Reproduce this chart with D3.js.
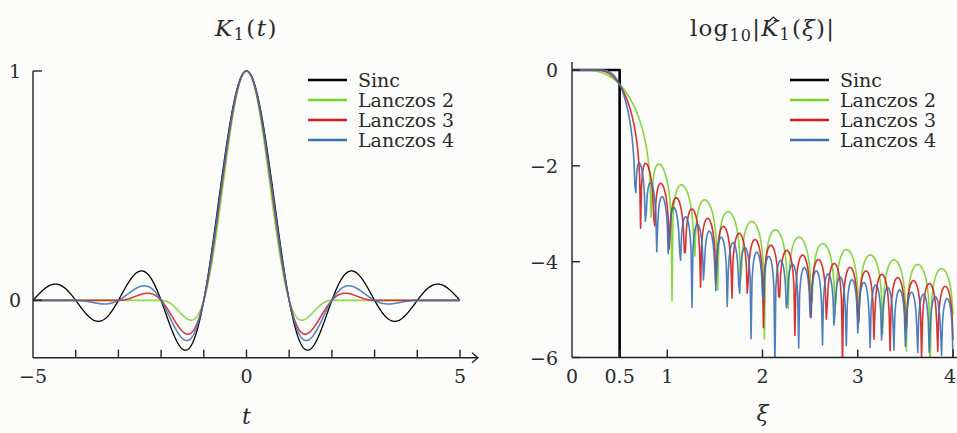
<!DOCTYPE html>
<html>
<head>
<meta charset="utf-8">
<script src="https://cdn.jsdelivr.net/npm/d3@7"></script>
<style>
  html, body { margin: 0; padding: 0; background: #fcfcfa; }
  svg { display: block; font-family: "DejaVu Serif", "Liberation Serif", serif; }
</style>
</head>
<body>
<svg id="chart" width="957" height="433"></svg>
<script>
// ---- series definitions ----
const seriesNames  = ["Sinc", "Lanczos 2", "Lanczos 3", "Lanczos 4"];
const seriesColors = ["#000000", "#78d22c", "#d41c1c", "#3b70b7"];
const lanczosOrders = [2, 3, 4];

// ---- sampling grids ----
const timeDomain = [-5, 5];
const timeStep = 0.01;
const freqDomain = [0, 4];
const freqStep = 0.01;

// ---- axis ticks ----
const timeTicks = [-4, -3, -2, -1, 0, 1, 2, 3, 4, 5];
const timeTickLabels = [-5, 0, 5];
const kernelTicks = [0, 1];
const freqTicks = [0.5, 1, 2, 3, 4];
const freqTickLabels = [0, 0.5, 1, 2, 3, 4];
const logTicks = [0, -2, -4, -6];

// ideal low-pass: |K^| = 1 below the cutoff, 0 above (drawn down to the floor)
const sincCutoff = 0.5;
const logFloor = -6;
const sincSpectrumXi  = [0, sincCutoff, sincCutoff];
const sincSpectrumLog = [0, 0, logFloor];

// ---- kernels ----
const sinc = x => x === 0 ? 1 : Math.sin(Math.PI * x) / (Math.PI * x);
const lanczos = (a, t) => Math.abs(t) < a ? sinc(t) * sinc(t / a) : 0;

// Fourier transform of the (even) Lanczos kernel, Simpson's rule on [0, a]
function lanczosSpectrum(a, xi) {
  const n = 2400, h = a / n;
  let s = 0;
  for (let i = 0; i <= n; i++) {
    const t = i * h;
    const w = (i === 0 || i === n) ? 1 : (i % 2 ? 4 : 2);
    s += w * lanczos(a, t) * Math.cos(2 * Math.PI * xi * t);
  }
  return 2 * h / 3 * s;
}

const tGrid = d3.range(Math.round((timeDomain[1] - timeDomain[0]) / timeStep) + 1)
  .map(i => timeDomain[0] + i * timeStep);
const xiGrid = d3.range(Math.round((freqDomain[1] - freqDomain[0]) / freqStep) + 1)
  .map(i => freqDomain[0] + i * freqStep);

const kernelSeries = [
  tGrid.map(t => [t, sinc(t)]),
  ...lanczosOrders.map(a => tGrid.map(t => [t, lanczos(a, t)]))
];
const spectrumSeries = [
  sincSpectrumXi.map((x, i) => [x, sincSpectrumLog[i]]),
  ...lanczosOrders.map(a => xiGrid.map(xi => {
    const v = Math.abs(lanczosSpectrum(a, xi));
    return [xi, v > 1e-9 ? Math.log10(v) : -9];
  }))
];

// ---- drawing ----
const svg = d3.select("#chart");
const axisColor = "#222";
const textColor = "#2a2a2a";
const fs = 19;

// left panel scales
const xL = d3.scaleLinear().domain([-5, 5]).range([33, 460]);
const yL = d3.scaleLinear().domain([-0.25, 1]).range([357.7, 71]);
// right panel scales
const xR = d3.scaleLinear().domain([0, 4]).range([572, 953]);
const yR = d3.scaleLinear().domain([-6, 0]).range([357.5, 70]);

const defs = svg.append("defs");
defs.append("clipPath").attr("id", "clipR")
  .append("rect").attr("x", xR(0)).attr("y", 40)
  .attr("width", 957 - xR(0)).attr("height", yR(-6) - 40);

function legend(g, x0, y0) {
  seriesNames.forEach((name, i) => {
    const y = y0 + i * 20;
    g.append("line").attr("x1", x0).attr("x2", x0 + 39)
      .attr("y1", y).attr("y2", y)
      .attr("stroke", seriesColors[i]).attr("stroke-width", 2.6);
    g.append("text").attr("x", x0 + 50).attr("y", y + 6.5)
      .attr("font-size", fs).attr("fill", textColor).text(name);
  });
}

// ---- left: K1(t) ----
const gL = svg.append("g");
const lineL = d3.line().x(d => xL(d[0])).y(d => yL(d[1]));
kernelSeries.forEach((s, i) => {
  gL.append("path").datum(s)
    .attr("d", lineL)
    .attr("fill", "none")
    .attr("stroke", seriesColors[i])
    .attr("stroke-width", i === 0 ? 1.3 : 1.6)
    .attr("stroke-opacity", i === 0 ? 1 : 0.85)
    .attr("stroke-linejoin", "round");
});

// left axes
const yAxisL = gL.append("g");
yAxisL.append("line").attr("x1", xL(-5)).attr("x2", xL(-5))
  .attr("y1", yL(1)).attr("y2", yL(-0.25))
  .attr("stroke", axisColor).attr("stroke-width", 1.4);
kernelTicks.forEach(v => {
  yAxisL.append("line").attr("x1", xL(-5)).attr("x2", xL(-5) + 9)
    .attr("y1", yL(v)).attr("y2", yL(v))
    .attr("stroke", axisColor).attr("stroke-width", 1.4);
  yAxisL.append("text").attr("x", xL(-5) - 12).attr("y", yL(v) + 7)
    .attr("text-anchor", "end").attr("font-size", fs).attr("fill", textColor)
    .text(v);
});
const xAxisL = gL.append("g");
xAxisL.append("line").attr("x1", xL(-5)).attr("x2", 478)
  .attr("y1", yL(-0.25)).attr("y2", yL(-0.25))
  .attr("stroke", axisColor).attr("stroke-width", 1.4);
xAxisL.append("path")
  .attr("d", `M${472},${yL(-0.25) - 5}L${478},${yL(-0.25)}L${472},${yL(-0.25) + 5}`)
  .attr("fill", "none").attr("stroke", axisColor).attr("stroke-width", 1.3);
timeTicks.forEach(v => {
  xAxisL.append("line").attr("x1", xL(v)).attr("x2", xL(v))
    .attr("y1", yL(-0.25)).attr("y2", yL(-0.25) - 8)
    .attr("stroke", axisColor).attr("stroke-width", 1.4);
});
timeTickLabels.forEach(v => {
  xAxisL.append("text").attr("x", xL(v)).attr("y", 383)
    .attr("text-anchor", "middle").attr("font-size", fs).attr("fill", textColor)
    .text(v < 0 ? "\u2212" + Math.abs(v) : v);
});
gL.append("text").attr("x", xL(0)).attr("y", 424)
  .attr("text-anchor", "middle").attr("font-size", 22).attr("font-style", "italic")
  .attr("fill", textColor).text("t");

// left title K1(t)
const tL = gL.append("text").attr("x", xL(0)).attr("y", 36)
  .attr("text-anchor", "middle").attr("font-size", 23).attr("fill", textColor)
  .attr("letter-spacing", 1.5);
tL.append("tspan").attr("font-style", "italic").text("K");
tL.append("tspan").attr("font-size", 16).attr("dy", 4).text("1");
tL.append("tspan").attr("dy", -4).attr("dx", 1).text("(");
tL.append("tspan").attr("font-style", "italic").text("t");
tL.append("tspan").text(")");

legend(gL, 308, 80);

// ---- right: log10 |K1^(xi)| ----
const gR = svg.append("g");
const lineR = d3.line().x(d => xR(d[0])).y(d => yR(d[1]));
const plotR = gR.append("g").attr("clip-path", "url(#clipR)");
spectrumSeries.forEach((s, i) => {
  plotR.append("path").datum(s)
    .attr("d", lineR)
    .attr("fill", "none")
    .attr("stroke", seriesColors[i])
    .attr("stroke-width", i === 0 ? 2.6 : 1.6)
    .attr("stroke-opacity", i === 0 ? 1 : 0.9)
    .attr("stroke-linejoin", "round");
});

// right axes
const yAxisR = gR.append("g");
yAxisR.append("line").attr("x1", xR(0)).attr("x2", xR(0))
  .attr("y1", 62).attr("y2", yR(-6))
  .attr("stroke", axisColor).attr("stroke-width", 1.4);
logTicks.forEach(v => {
  yAxisR.append("line").attr("x1", xR(0)).attr("x2", xR(0) + 8)
    .attr("y1", yR(v)).attr("y2", yR(v))
    .attr("stroke", axisColor).attr("stroke-width", 1.4);
  yAxisR.append("text").attr("x", 558).attr("y", yR(v) + 7)
    .attr("text-anchor", "end").attr("font-size", fs).attr("fill", textColor)
    .text(v < 0 ? "\u2212" + Math.abs(v) : v);
});
const xAxisR = gR.append("g");
xAxisR.append("line").attr("x1", xR(0)).attr("x2", 957)
  .attr("y1", yR(-6)).attr("y2", yR(-6))
  .attr("stroke", axisColor).attr("stroke-width", 1.4);
freqTicks.forEach(v => {
  xAxisR.append("line").attr("x1", xR(v)).attr("x2", xR(v))
    .attr("y1", yR(-6)).attr("y2", yR(-6) - 8)
    .attr("stroke", axisColor).attr("stroke-width", 1.4);
});
freqTickLabels.forEach(v => {
  // the last label sits at the right edge, so it is right-aligned to stay visible
  const last = v === freqDomain[1];
  xAxisR.append("text").attr("x", last ? 956 : xR(v)).attr("y", 383)
    .attr("text-anchor", last ? "end" : "middle").attr("font-size", fs).attr("fill", textColor)
    .text(v);
});
gR.append("text").attr("x", xR(2)).attr("y", 421)
  .attr("text-anchor", "middle").attr("font-size", 22).attr("font-style", "italic")
  .attr("fill", textColor).text("\u03be");

// right title log10 |K^1(xi)|
const tR = gR.append("text").attr("x", xR(2)).attr("y", 36)
  .attr("text-anchor", "middle").attr("font-size", 23).attr("fill", textColor)
  .attr("letter-spacing", 1.2);
tR.append("tspan").text("log");
tR.append("tspan").attr("font-size", 16).attr("dy", 5).text("10");
tR.append("tspan").attr("dy", -5).text("|");
tR.append("tspan").attr("font-style", "italic").text("K");
tR.append("tspan").attr("font-size", 16).attr("dy", 4).text("1");
tR.append("tspan").attr("dy", -4).attr("dx", 1).text("(");
tR.append("tspan").attr("font-style", "italic").text("\u03be");
tR.append("tspan").text(")|");
// circumflex accent drawn over the K
const kBox = tR.node().getExtentOfChar(6);
const hx = kBox.x + kBox.width / 2 + 3, hy = kBox.y + 3;
gR.append("path")
  .attr("d", `M${hx - 5},${hy + 3.5}L${hx},${hy - 1}L${hx + 5},${hy + 3.5}`)
  .attr("fill", "none").attr("stroke", textColor).attr("stroke-width", 1.3);

legend(gR, 790, 80);
</script>
</body>
</html>
